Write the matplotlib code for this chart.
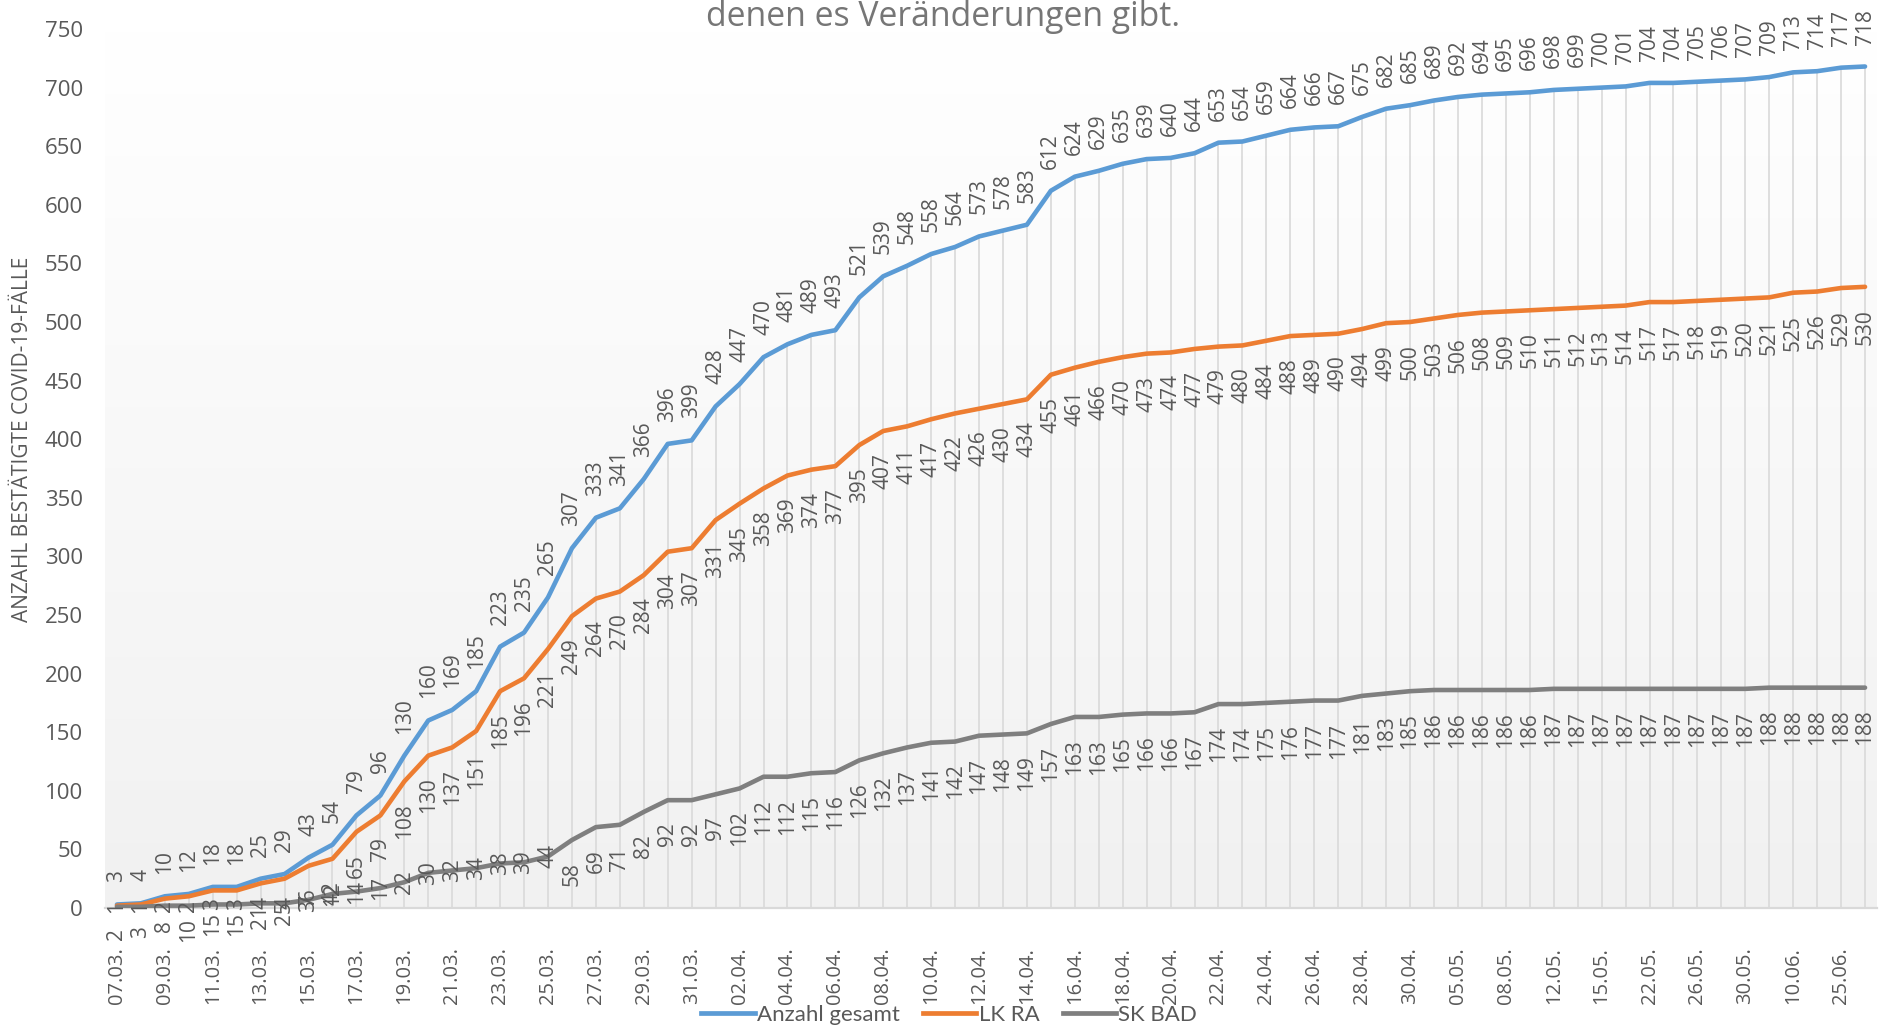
import numpy as np
import matplotlib
matplotlib.use("Agg")
import matplotlib.pyplot as plt
from matplotlib.lines import Line2D

# Cumulative COVID-19 case counts (Landkreis Rastatt + Baden-Baden)
gesamt = [3, 4, 10, 12, 18, 18, 25, 29, 43, 54, 79, 96, 130, 160, 169, 185, 223, 235, 265, 307,
          333, 341, 366, 396, 399, 428, 447, 470, 481, 489, 493, 521, 539, 548, 558, 564, 573, 578,
          583, 612, 624, 629, 635, 639, 640, 644, 653, 654, 659, 664, 666, 667, 675, 682, 685, 689,
          692, 694, 695, 696, 698, 699, 700, 701, 704, 704, 705, 706, 707, 709, 713, 714, 717, 718]
lk_ra = [2, 3, 8, 10, 15, 15, 21, 25, 36, 42, 65, 79, 108, 130, 137, 151, 185, 196, 221, 249,
         264, 270, 284, 304, 307, 331, 345, 358, 369, 374, 377, 395, 407, 411, 417, 422, 426, 430,
         434, 455, 461, 466, 470, 473, 474, 477, 479, 480, 484, 488, 489, 490, 494, 499, 500, 503,
         506, 508, 509, 510, 511, 512, 513, 514, 517, 517, 518, 519, 520, 521, 525, 526, 529, 530]
sk_bad = [1, 1, 2, 2, 3, 3, 4, 4, 7, 12, 14, 17, 22, 30, 32, 34, 38, 39, 44, 58,
          69, 71, 82, 92, 92, 97, 102, 112, 112, 115, 116, 126, 132, 137, 141, 142, 147, 148,
          149, 157, 163, 163, 165, 166, 166, 167, 174, 174, 175, 176, 177, 177, 181, 183, 185, 186,
          186, 186, 186, 186, 187, 187, 187, 187, 187, 187, 187, 187, 187, 188, 188, 188, 188, 188]

# every second date is shown on the axis
shown_dates = ["07.03.", "09.03.", "11.03.", "13.03.", "15.03.", "17.03.", "19.03.", "21.03.",
               "23.03.", "25.03.", "27.03.", "29.03.", "31.03.", "02.04.", "04.04.", "06.04.",
               "08.04.", "10.04.", "12.04.", "14.04.", "16.04.", "18.04.", "20.04.", "22.04.",
               "24.04.", "26.04.", "28.04.", "30.04.", "05.05.", "08.05.", "12.05.", "15.05.",
               "22.05.", "26.05.", "30.05.", "10.06.", "25.06."]

series_names = ["Anzahl gesamt", "LK RA", "SK BAD"]
colors = ["#5b9bd5", "#ed7d31", "#7f7f7f"]
label_col = "#595959"

wide = ["Open Sans", "DejaVu Sans"]
legend_font = ["Lato", "DejaVu Sans"]

fig = plt.figure(figsize=(18.87, 10.33), dpi=100)
ax = fig.add_axes([105 / 1887, 1 - 908 / 1033, (1877 - 105) / 1887, (908 - 29) / 1033])

x = np.arange(len(gesamt))

# soft white -> grey background
grad = np.linspace(0, 1, 256).reshape(-1, 1)
ax.imshow(grad, extent=[0, 1, 0, 1], transform=ax.transAxes, aspect="auto",
          cmap=matplotlib.colors.LinearSegmentedColormap.from_list("bg", ["#ffffff", "#f1f1f1"]),
          origin="upper", zorder=0)

# drop lines
ax.vlines(x, 0, gesamt, color="#d9d9d9", lw=1.2, zorder=1)

for vals, c in zip([gesamt, lk_ra, sk_bad], colors):
    ax.plot(x, vals, color=c, lw=3.3, solid_joinstyle="round", solid_capstyle="round", zorder=3)

# data labels
lab_kw = dict(textcoords="offset pixels", rotation=90, ha="center", fontsize=15,
              family=wide, color=label_col, zorder=5, annotation_clip=False)
for i in x:
    ax.annotate(str(gesamt[i]), (i, gesamt[i]), xytext=(0, 22), va="bottom", **lab_kw)
    ax.annotate(str(lk_ra[i]), (i, lk_ra[i]), xytext=(0, -22), va="top", **lab_kw)
    if sk_bad[i] < 50:
        off, va = 0, "center"
    else:
        off, va = -22, "top"
    ax.annotate(str(sk_bad[i]), (i, sk_bad[i]), xytext=(0, off), va=va, **lab_kw)

ax.set_xlim(-0.5, len(gesamt) - 0.5)
ax.set_ylim(0, 750)
ax.set_yticks(np.arange(0, 751, 50))
ax.set_xticks(x)
ax.set_xticklabels([shown_dates[i // 2] if i % 2 == 0 else "" for i in x],
                   rotation=90, fontsize=14.5, family=wide, color=label_col)
for t in ax.get_yticklabels():
    t.set_family(wide)
ax.tick_params(axis="x", length=0, pad=28)
ax.tick_params(axis="y", length=0, pad=16, labelsize=16, labelcolor=label_col)

for s in ["top", "right", "left"]:
    ax.spines[s].set_visible(False)
ax.spines["bottom"].set_color("#d9d9d9")
ax.spines["bottom"].set_linewidth(1.6)

fig.text(23 / 1887, 1 - 439 / 1033, "ANZAHL BESTÄTIGTE COVID-19-FÄLLE", rotation=90,
         ha="center", va="center", fontsize=15, family=wide, color=label_col)

fig.text(0.5, 1 - 26 / 1033, "denen es Veränderungen gibt.", ha="center", va="baseline",
         fontsize=24.3, family=wide, color="#767676")

handles = [Line2D([], [], color=c, lw=3.4) for c in colors]
fig.legend(handles, series_names, loc="center", bbox_to_anchor=(0.503, 1 - 1015 / 1033), ncol=3,
           frameon=False, handlelength=2.4, handletextpad=0.1, columnspacing=1.05,
           prop={"family": legend_font, "size": 16}, labelcolor=label_col)

fig.savefig("out.png", dpi=100)
